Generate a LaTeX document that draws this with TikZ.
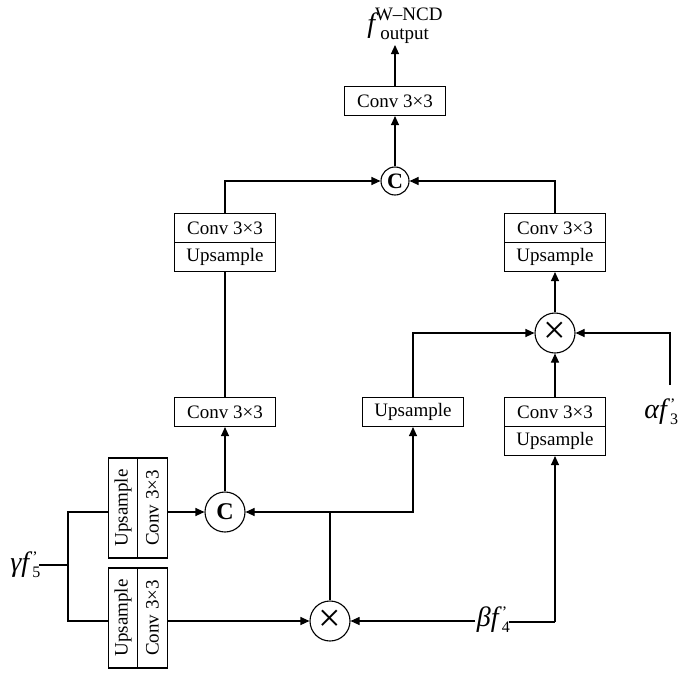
\documentclass[tikz,border=0pt]{standalone}
\usepackage{fontspec}
\setmainfont{Liberation Serif}
\usetikzlibrary{arrows.meta}
\newcommand{\mylab}[3]{\textit{#1}\raisebox{-6pt}{\fontsize{16}{16}\selectfont #3}\kern-8pt\raisebox{9pt}{\fontsize{16}{16}\selectfont#2}}
\begin{document}
\begin{tikzpicture}[x=1pt,y=-1pt,line width=1.1pt,
  box/.style={draw,minimum width=101pt,minimum height=29pt,inner sep=0pt,font=\fontsize{19}{20}\selectfont},
  vbox/.style={draw,minimum width=100pt,minimum height=29.5pt,inner sep=0pt,rotate=90,font=\fontsize{19}{20}\selectfont},
  op/.style={draw,circle,inner sep=0pt},
  arr/.style={-{Triangle[length=9pt,width=8pt]}},
  lbl/.style={inner sep=1pt,font=\fontsize{28}{30}\selectfont}]
\useasboundingbox (0,0) rectangle (685,675);
\node[box] (convtop) at (395,101) {Conv 3×3};
\node[op,minimum size=28pt,font=\fontsize{22}{22}\selectfont\bfseries] (ctop) at (395,181) {C};
\node[box] (lconv) at (225,228) {Conv 3×3};
\node[box] (lups) at (225,257) {Upsample};
\node[box] (rconv) at (555,228) {Conv 3×3};
\node[box] (rups) at (555,257) {Upsample};
\node[op,minimum size=40pt,font=\fontsize{40}{40}\selectfont] (xtop) at (555,333) {×};
\node[box] (mups) at (413,412) {Upsample};
\node[box] (mconv) at (225,412) {Conv 3×3};
\node[box] (rconv2) at (555,412) {Conv 3×3};
\node[box] (rups2) at (555,441) {Upsample};
\node[op,minimum size=40pt,font=\fontsize{24}{24}\selectfont\bfseries] (cbot) at (225,512) {C};
\node[op,minimum size=40pt,font=\fontsize{40}{40}\selectfont] (xbot) at (330,621) {×};
\node[vbox] (v1a) at (123,508) {Upsample};
\node[vbox] (v1b) at (152.5,508) {Conv 3×3};
\node[vbox] (v2a) at (123,618) {Upsample};
\node[vbox] (v2b) at (152.5,618) {Conv 3×3};
\node[lbl] (out) at (405,26) {\textit{f}\kern2pt\raisebox{-7pt}{\fontsize{19}{19}\selectfont output}\kern-54pt\raisebox{12pt}{\fontsize{19}{19}\selectfont W–NCD}};
\node[lbl] (alpha) at (660,412) {\mylab{αf}{'}{3}};
\node[lbl] (beta) at (492,620) {\mylab{βf}{'}{4}};
\node[lbl] (gamma) at (24,565) {\mylab{γf}{'}{5}};
\coordinate (j1) at (68,565);
\coordinate (j2) at (330,512);
\coordinate (j3) at (555,622);
\draw[arr] (ctop) -- (convtop);
\draw[arr] (convtop) -- (395,45);
\draw[arr] (lconv.north) |- (ctop);
\draw[arr] (rconv.north) |- (ctop);
\draw[arr] (xtop) -- (rups);
\draw[arr] (mups.north) |- (xtop);
\draw[arr] (670,385) |- (xtop);
\draw[arr] (rconv2) -- (xtop);
\draw[arr] (cbot) -- (mconv);
\draw (mconv) -- (lups);
\draw[arr] (j2) -| (mups.south);
\draw[arr] (j2) -- (cbot);
\draw (j2) -- (xbot);
\draw (gamma.east|-j1) -- (j1);
\draw (v1a.north|-cbot) -| (j1) |- (v2a.north|-xbot);
\draw[arr] (v1b.south|-cbot) -- (cbot);
\draw[arr] (v2b.south|-xbot) -- (xbot);
\draw[arr] (beta.west|-xbot) -- (xbot);
\draw (beta.east|-j3) -- (j3);
\draw[arr] (j3) -- (rups2.south);
\end{tikzpicture}
\end{document}
